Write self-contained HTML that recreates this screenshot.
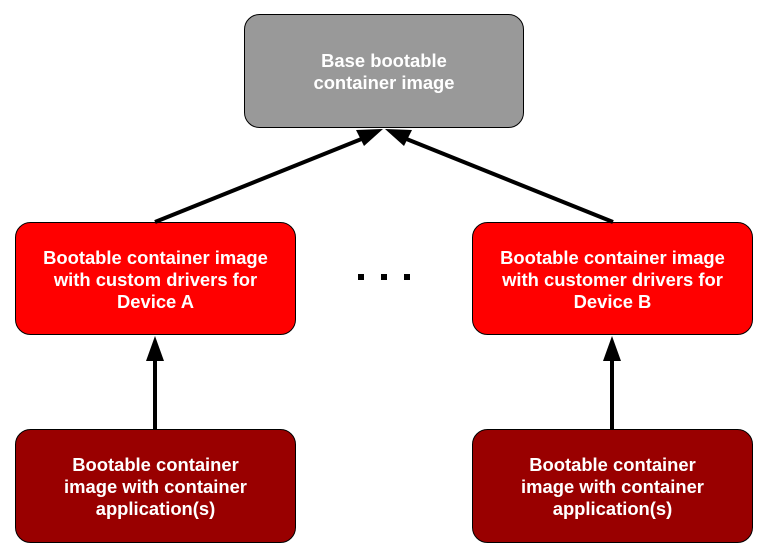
<!DOCTYPE html>
<html><head><meta charset="utf-8"><style>
html,body{margin:0;padding:0;background:#fff;width:768px;height:560px;overflow:hidden}
svg{display:block}
text{font-family:"Liberation Sans",Arial,sans-serif;font-weight:bold;font-size:18.4px;fill:#fff;text-anchor:middle}
</style></head><body>
<svg width="768" height="560" viewBox="0 0 768 560">
<rect x="244.5" y="14.5" width="279" height="113" rx="15" fill="#999" stroke="#000" stroke-width="1"/>
<text x="384" y="67">Base bootable</text>
<text x="384" y="89">container image</text>

<rect x="15.5" y="222.5" width="280" height="112" rx="15" fill="#f00" stroke="#000"/>
<text x="155.5" y="264">Bootable container image</text>
<text x="155.5" y="286">with custom drivers for</text>
<text x="155.5" y="308">Device A</text>

<rect x="472.5" y="222.5" width="280" height="112" rx="15" fill="#f00" stroke="#000"/>
<text x="612.5" y="264">Bootable container image</text>
<text x="612.5" y="286">with customer drivers for</text>
<text x="612.5" y="308">Device B</text>

<rect x="15.5" y="429.5" width="280" height="113" rx="15" fill="#990000" stroke="#000"/>
<text x="155.5" y="471">Bootable container</text>
<text x="155.5" y="493">image with container</text>
<text x="155.5" y="515">application(s)</text>

<rect x="472.5" y="429.5" width="280" height="113" rx="15" fill="#990000" stroke="#000"/>
<text x="612.5" y="471">Bootable container</text>
<text x="612.5" y="493">image with container</text>
<text x="612.5" y="515">application(s)</text>

<g stroke="#000" stroke-width="4" fill="none">
<line x1="155" y1="222" x2="364" y2="138"/>
<line x1="613" y1="222" x2="404" y2="138"/>
<line x1="155" y1="429" x2="155" y2="358"/>
<line x1="612" y1="429" x2="612" y2="358"/>
</g>
<g fill="#000">
<polygon points="383,129 364,146 356,130"/>
<polygon points="385,129 412,130 404,146"/>
<polygon points="155,336 146,361 164,361"/>
<polygon points="612,336 603,361 621,361"/>
<rect x="358" y="274" width="6" height="6"/>
<rect x="381" y="274" width="6" height="6"/>
<rect x="404" y="274" width="6" height="6"/>
</g>
</svg>
</body></html>
